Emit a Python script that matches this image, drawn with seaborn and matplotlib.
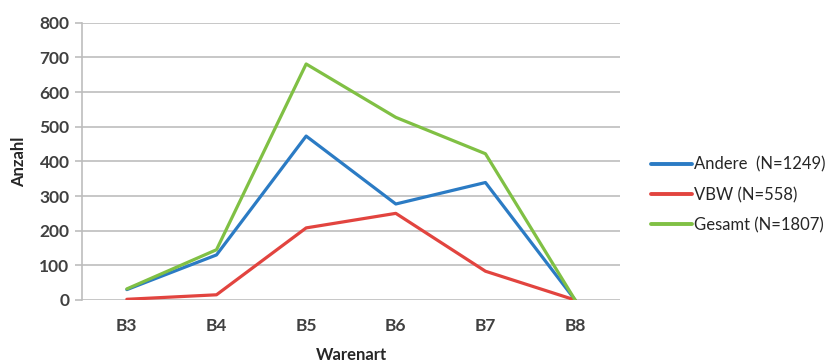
import matplotlib
matplotlib.use("Agg")
import matplotlib.pyplot as plt
import seaborn as sns
import pandas as pd

categories = ["B3", "B4", "B5", "B6", "B7", "B8"]
andere = [30, 130, 473, 277, 339, 0]
vbw = [2, 15, 208, 250, 83, 0]
gesamt = [32, 145, 681, 527, 422, 0]
series_names = ["Andere  (N=1249)", "VBW (N=558)", "Gesamt (N=1807)"]
colors = ["#2b7bc4", "#e2443f", "#80c044"]

sns.set_theme(style="white")
plt.rcParams['font.family'] = ['Lato', 'DejaVu Sans']

rows = []
for name, vals in zip(series_names, [andere, vbw, gesamt]):
    for i, (c, v) in enumerate(zip(categories, vals)):
        rows.append({"pos": i, "Warenart": c, "Anzahl": v, "Serie": name})
df = pd.DataFrame(rows)

fig = plt.figure(figsize=(8.31, 3.61), dpi=100)
ax = fig.add_axes([0.0987, 0.169, 0.746 - 0.0987, 0.937 - 0.169])

sns.lineplot(data=df, x="pos", y="Anzahl", hue="Serie", palette=colors,
             hue_order=series_names, linewidth=2.3, ax=ax, legend=True)

ax.set_xlim(-0.5, len(categories) - 0.5)
ax.set_ylim(0, 800)
ax.set_yticks(range(0, 801, 100))
ax.set_xticks(range(len(categories)))
ax.set_xticklabels(categories)
ax.yaxis.grid(True, color="#bdbdbd", linewidth=1.2)
ax.set_axisbelow(True)
for s in ["top", "right", "bottom"]:
    ax.spines[s].set_visible(False)
ax.spines["left"].set_color("#bdbdbd")
ax.spines["left"].set_linewidth(1.2)
ax.tick_params(axis="y", length=5, color="#bdbdbd", width=1.2, pad=4, left=True)
ax.tick_params(axis="x", length=0, pad=13)
for lab in ax.get_xticklabels() + ax.get_yticklabels():
    lab.set_fontsize(12.5)
    lab.set_fontweight("bold")
    lab.set_color("#404040")

ax.set_xlabel("Warenart", fontsize=12, fontweight="bold", color="#262626", labelpad=9)
ax.set_ylabel("Anzahl", fontsize=12, fontweight="bold", color="#262626", labelpad=9)

leg = ax.legend(loc="center left", bbox_to_anchor=(0.765, 0.46), bbox_transform=fig.transFigure,
                frameon=False, fontsize=12, handlelength=2.5, handletextpad=0.1,
                labelspacing=0.85)
for t in leg.get_texts():
    t.set_color("#262626")
for h in leg.get_lines():
    h.set_linewidth(2.8)

fig.savefig("out.png", dpi=100)
